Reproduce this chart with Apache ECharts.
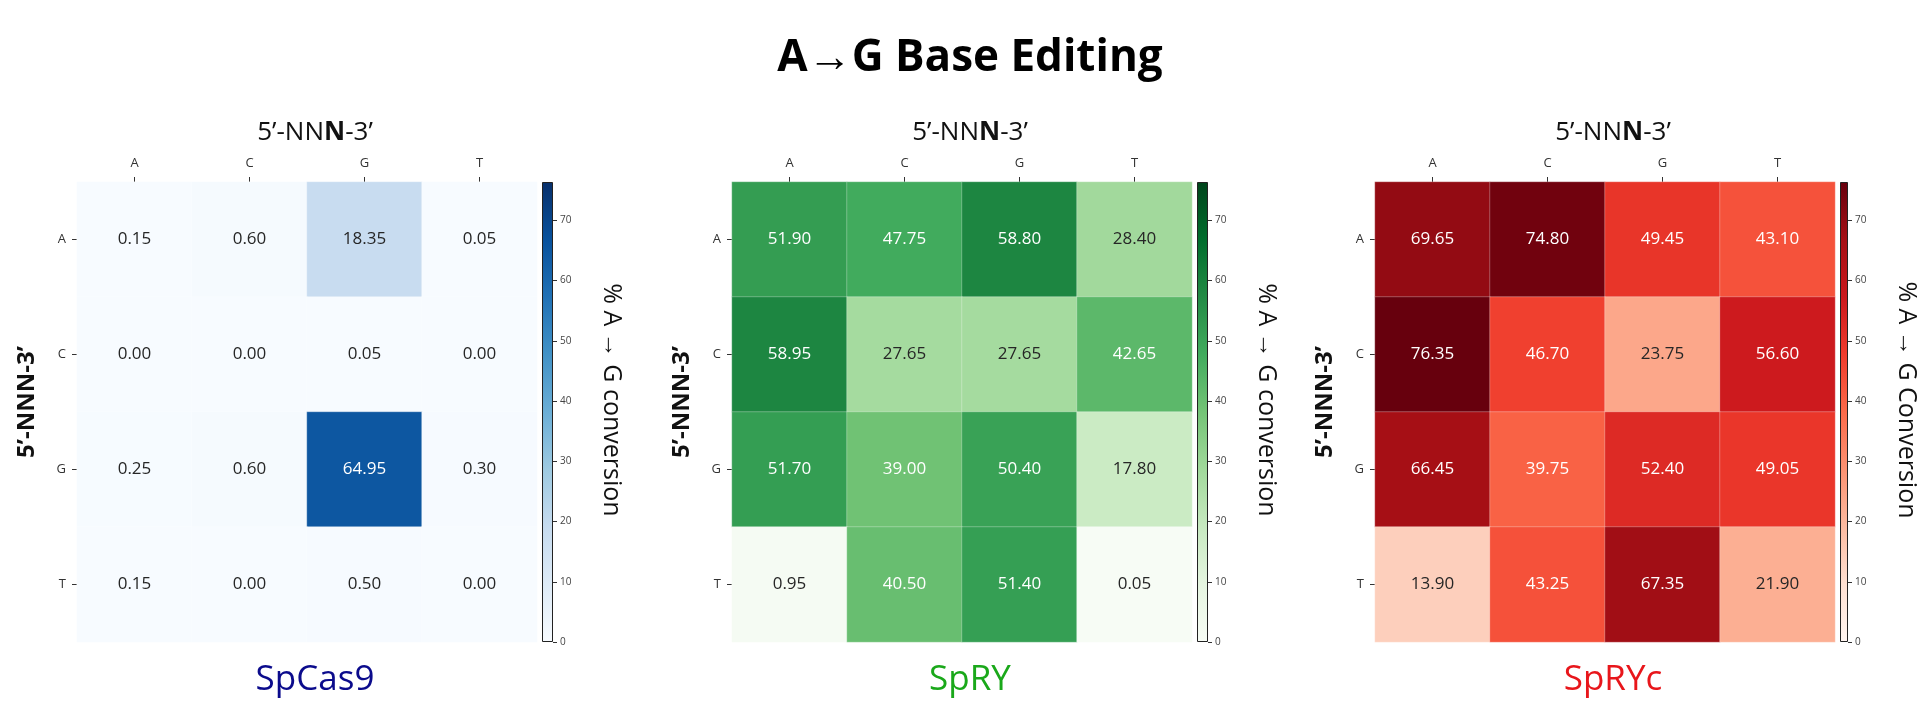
<!DOCTYPE html>
<html>
<head>
<meta charset="utf-8">
<script src="https://cdn.jsdelivr.net/npm/echarts@6/dist/echarts.min.js"></script>
<style>
html,body{margin:0;padding:0;background:#fff;}
#chart{width:1920px;height:720px;}
</style>
</head>
<body>
<div id="chart"></div>
<script>
// ---- data ----
const xCategories = ['A', 'C', 'G', 'T'];
const yCategories = ['A', 'C', 'G', 'T'];
const spcas9 = [
  [0.15, 0.60, 18.35, 0.05],
  [0.00, 0.00, 0.05, 0.00],
  [0.25, 0.60, 64.95, 0.30],
  [0.15, 0.00, 0.50, 0.00]
];
const spry = [
  [51.90, 47.75, 58.80, 28.40],
  [58.95, 27.65, 27.65, 42.65],
  [51.70, 39.00, 50.40, 17.80],
  [0.95, 40.50, 51.40, 0.05]
];
const spryc = [
  [69.65, 74.80, 49.45, 43.10],
  [76.35, 46.70, 23.75, 56.60],
  [66.45, 39.75, 52.40, 49.05],
  [13.90, 43.25, 67.35, 21.90]
];
const colorbarTicks = [0, 10, 20, 30, 40, 50, 60, 70];
const panelNames = ['SpCas9', 'SpRY', 'SpRYc'];
const colorbarTitles = ['% A \u2192 G conversion', '% A \u2192 G conversion', '% A \u2192 G Conversion'];
const mainTitle = 'A\u2192G Base Editing';

// ---- styling ----
const cmaps = [
  ['#f7fbff','#deebf7','#c6dbef','#9ecae1','#6baed6','#4292c6','#2171b5','#08519c','#08306b'],
  ['#f7fcf5','#e5f5e0','#c7e9c0','#a1d99b','#74c476','#41ab5d','#238b45','#006d2c','#00441b'],
  ['#fff5f0','#fee0d2','#fcbba1','#fc9272','#fb6a4a','#ef3b2c','#cb181d','#a50f15','#67000d']
];
const labelColors = ['#0b0b8c', '#1aa81a', '#e8161b'];
const panels = [spcas9, spry, spryc];
const VMAX = Math.max(...panels.flat(2));
const FONT = '"Open Sans", "Noto Sans", sans-serif';

const heatLeft = [77, 732, 1375];
const HEAT_TOP = 182, HEAT_SIZE = 460, CB_GAP = 5, CB_W = 11;

const chart = echarts.init(document.getElementById('chart'));

const grids = [], xAxes = [], yAxes = [], series = [], visualMaps = [], graphics = [];

panels.forEach((mat, p) => {
  grids.push({left: heatLeft[p], top: HEAT_TOP, width: HEAT_SIZE, height: HEAT_SIZE});
  grids.push({left: heatLeft[p] + HEAT_SIZE + CB_GAP, top: HEAT_TOP, width: CB_W, height: HEAT_SIZE});
  const gH = 2 * p, gC = 2 * p + 1;

  xAxes.push({
    gridIndex: gH, type: 'category', data: xCategories, position: 'top',
    axisLine: {show: false},
    axisTick: {show: true, alignWithLabel: true, length: 5, lineStyle: {color: '#333', width: 1}},
    axisLabel: {fontSize: 13, color: '#333', margin: 12, fontFamily: FONT},
    splitLine: {show: false},
    name: '{n|5\u2019-NN}{b|N}{n|-3\u2019}', nameLocation: 'middle', nameGap: 36,
    nameTextStyle: {
      fontFamily: FONT, fontSize: 26, color: '#111', padding: [0, 0, 0, 16],
      rich: {
        n: {fontFamily: FONT, fontSize: 26, color: '#111'},
        b: {fontFamily: FONT, fontSize: 26, color: '#111', fontWeight: 'bold'}
      }
    }
  });
  yAxes.push({
    gridIndex: gH, type: 'category', data: yCategories, inverse: true,
    axisLine: {show: false},
    axisTick: {show: true, alignWithLabel: true, length: 5, lineStyle: {color: '#333', width: 1}},
    axisLabel: {fontSize: 13, color: '#333', margin: 11, fontFamily: FONT},
    splitLine: {show: false},
    name: '5\u2019-NNN-3\u2019', nameLocation: 'middle', nameGap: 38, nameRotate: 90,
    nameTextStyle: {fontFamily: FONT, fontSize: 24, color: '#111', fontWeight: 'bold', padding: [0, 0, 0, 20]}
  });
  xAxes.push({gridIndex: gC, type: 'category', data: ['cb'], show: false});
  yAxes.push({
    gridIndex: gC, type: 'value', min: 0, max: VMAX, position: 'right',
    axisLine: {show: false},
    axisTick: {show: true, length: 4, customValues: colorbarTicks, lineStyle: {color: '#333'}},
    axisLabel: {show: true, customValues: colorbarTicks, fontSize: 10, color: '#444', margin: 7, fontFamily: FONT,
      formatter: v => (Math.abs(v % 10) < 1e-9 ? String(v) : '')},
    splitLine: {show: false},
    name: colorbarTitles[p], nameLocation: 'middle', nameRotate: -90, nameGap: 46,
    nameTextStyle: {fontFamily: FONT, fontSize: 25, color: '#111', padding: [0, 24, 0, 0]}
  });

  const data = [];
  mat.forEach((row, yi) => row.forEach((v, xi) => {
    data.push({value: [xi, yi, v], label: {color: v > 35 ? '#ffffff' : '#262626'}});
  }));
  series.push({
    type: 'heatmap', xAxisIndex: 2 * p, yAxisIndex: 2 * p, data: data,
    itemStyle: {borderColor: 'rgba(255,255,255,0.28)', borderWidth: 1},
    label: {show: true, fontSize: 17, fontFamily: FONT, formatter: d => d.value[2].toFixed(2)},
    emphasis: {disabled: true}
  });
  visualMaps.push({
    type: 'continuous', show: false, min: 0, max: VMAX, seriesIndex: series.length - 1,
    inRange: {color: cmaps[p]}
  });
  series.push({
    type: 'bar', xAxisIndex: 2 * p + 1, yAxisIndex: 2 * p + 1, data: [VMAX], barWidth: '100%', silent: true,
    itemStyle: {
      color: new echarts.graphic.LinearGradient(0, 1, 0, 0,
        cmaps[p].map((c, i) => ({offset: i / (cmaps[p].length - 1), color: c}))),
      borderColor: '#222', borderWidth: 1
    }
  });

  graphics.push({
    type: 'text', x: heatLeft[p] + (HEAT_SIZE + CB_GAP + CB_W) / 2, y: 680,
    style: {text: panelNames[p], textAlign: 'center', textVerticalAlign: 'middle',
      font: '35px ' + FONT, fill: labelColors[p]}
  });
});

graphics.push({
  type: 'text', x: 970, y: 58,
  style: {text: mainTitle, textAlign: 'center', textVerticalAlign: 'middle',
    font: 'bold 44px ' + FONT, fill: '#000'}
});

chart.setOption({
  backgroundColor: '#fff',
  animation: false,
  grid: grids,
  xAxis: xAxes,
  yAxis: yAxes,
  visualMap: visualMaps,
  series: series,
  graphic: graphics
});
</script>
</body>
</html>
